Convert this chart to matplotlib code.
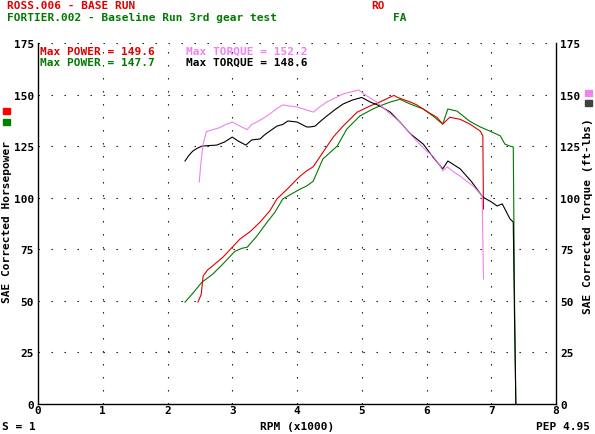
# dyno_plot.py
# Redraws the dyno comparison sheet: SAE corrected power and torque vs RPM.

import matplotlib
matplotlib.use("Agg")
import matplotlib.pyplot as plt

# ROSS.006 - base run, power (hp)
ross_power_rpm = [2.47, 2.52, 2.55, 2.62, 2.70, 2.86, 3.00, 3.12, 3.27, 3.43, 3.58, 3.69,
                  3.85, 4.00, 4.05, 4.15, 4.25, 4.40, 4.56, 4.71, 4.93, 5.13, 5.28, 5.44,
                  5.50, 5.54, 5.65, 5.75, 5.85, 5.95, 6.05, 6.16, 6.25, 6.36, 6.52, 6.67,
                  6.83, 6.87, 6.88]
ross_power = [49.4, 53.0, 62.0, 65.0, 67.0, 71.3, 76.0, 80.0, 83.4, 88.2, 93.6, 99.4,
              104.2, 109.0, 110.5, 113.0, 115.0, 122.0, 129.4, 134.7, 141.5, 144.5, 146.4, 148.8,
              149.6, 148.8, 147.5, 146.4, 145.0, 143.0, 141.0, 139.0, 135.7, 139.0, 138.0, 135.7,
              132.3, 130.0, 94.5]

# ROSS.006 - base run, torque (ft-lbs)
ross_torque_rpm = [2.49, 2.52, 2.55, 2.60, 2.70, 2.81, 2.90, 3.00, 3.10, 3.23, 3.30, 3.38,
                   3.48, 3.58, 3.68, 3.78, 3.88, 4.00, 4.10, 4.25, 4.35, 4.46, 4.60, 4.71,
                   4.86, 4.95, 5.08, 5.23, 5.39, 5.59, 5.79, 6.00, 6.10, 6.20, 6.25, 6.32,
                   6.42, 6.52, 6.62, 6.72, 6.86, 6.87, 6.88]
ross_torque = [107.6, 118.0, 126.0, 132.0, 133.0, 134.0, 135.5, 136.7, 135.0, 133.0, 135.5, 136.7,
               138.5, 140.6, 143.0, 145.0, 144.5, 144.0, 143.0, 141.5, 144.0, 146.4, 148.5, 150.3,
               151.5, 152.2, 149.3, 146.4, 142.0, 136.7, 129.4, 122.6, 120.2, 116.0, 113.0, 115.0,
               112.5, 110.5, 108.0, 105.7, 100.8, 80.0, 60.6]

# FORTIER.002 - baseline run 3rd gear, power (hp)
fortier_power_rpm = [2.27, 2.40, 2.53, 2.70, 2.86, 3.04, 3.15, 3.23, 3.38, 3.54, 3.66, 3.78,
                     3.97, 4.05, 4.15, 4.25, 4.40, 4.62, 4.77, 4.97, 5.17, 5.28, 5.44, 5.59,
                     5.75, 5.95, 6.10, 6.25, 6.33, 6.47, 6.67, 6.83, 6.98, 7.14, 7.21, 7.29,
                     7.34, 7.36, 7.38]
fortier_power = [49.4, 54.0, 59.0, 63.0, 68.0, 74.0, 75.5, 76.0, 81.4, 88.2, 93.0, 99.4,
                 102.8, 104.2, 105.7, 108.0, 118.8, 125.0, 133.3, 139.6, 143.0, 144.5, 146.4, 147.7,
                 145.4, 143.0, 139.6, 135.7, 143.0, 142.0, 137.0, 134.3, 132.3, 130.0, 126.0, 125.0,
                 124.6, 50.0, 0.0]

# FORTIER.002 - baseline run 3rd gear, torque (ft-lbs)
fortier_torque_rpm = [2.27, 2.33, 2.39, 2.46, 2.53, 2.65, 2.76, 2.88, 3.00, 3.09, 3.21, 3.30,
                      3.43, 3.50, 3.58, 3.69, 3.78, 3.86, 4.00, 4.15, 4.20, 4.28, 4.36, 4.46,
                      4.60, 4.71, 4.86, 5.00, 5.13, 5.28, 5.44, 5.59, 5.75, 5.95, 6.10, 6.25,
                      6.33, 6.42, 6.52, 6.70, 6.87, 7.00, 7.09, 7.17, 7.29, 7.34, 7.36, 7.38]
fortier_torque = [117.8, 120.5, 122.6, 124.0, 125.0, 125.3, 125.5, 127.0, 129.4, 127.5, 125.5, 128.0,
                  128.5, 130.5, 132.3, 134.7, 135.5, 137.2, 136.7, 134.3, 134.3, 134.7, 137.0, 139.6,
                  143.0, 145.4, 147.4, 148.6, 146.4, 144.5, 141.5, 136.7, 131.0, 126.0, 119.7, 114.0,
                  117.8, 116.0, 114.0, 107.6, 100.3, 98.0, 96.0, 97.0, 89.7, 88.2, 40.0, 0.0]

x_ticks = [0, 1, 2, 3, 4, 5, 6, 7, 8]
y_ticks = [0, 25, 50, 75, 100, 125, 150, 175]

W, H = 595, 435
FONT = "DejaVu Sans Mono"
FS = 8.0
RED = "#e00000"
GREEN = "#007a00"
PINK = "#ee82ee"


def px(x, y):
    """Pixel position -> figure fraction."""
    return x / W, 1 - y / H


def put(x, y, s, color="black", ha="left", va="center", **kw):
    fx, fy = px(x, y)
    fig.text(fx, fy, s, color=color, ha=ha, va=va, family=FONT,
             fontsize=FS, fontweight="bold", **kw)


fig = plt.figure(figsize=(W / 100, H / 100), dpi=100)
ax = fig.add_axes([38 / W, 1 - 405 / H, (556 - 38) / W, (405 - 44) / H])

# dotted grid, drawn by hand so the dot spacing matches the printout
for y in y_ticks[1:]:
    ax.axhline(y, color="black", lw=0.8, ls=(0, (1.2, 10.5)), zorder=1)
for x in x_ticks[1:-1]:
    ax.axvline(x, color="black", lw=0.8, ls=(0, (1.2, 10.5)), zorder=1)

ax.plot(fortier_power_rpm, fortier_power, color=GREEN, lw=0.8, zorder=3)
ax.plot(ross_power_rpm, ross_power, color=RED, lw=0.8, zorder=3)
ax.plot(fortier_torque_rpm, fortier_torque, color="black", lw=0.8, zorder=4)
ax.plot(ross_torque_rpm, ross_torque, color=PINK, lw=0.8, zorder=4)

ax.set_xlim(0, 8)
ax.set_ylim(0, 175)
ax.set_xticks(x_ticks)
ax.set_yticks(y_ticks)
ax.tick_params(length=0, labelsize=FS, labelright=True)
ax.tick_params(axis="x", pad=1)
ax.tick_params(axis="y", pad=3)
for lab in ax.get_xticklabels() + ax.get_yticklabels():
    lab.set_family(FONT)
    lab.set_fontweight("bold")
ax.spines["top"].set_visible(False)
for s in ("left", "right", "bottom"):
    ax.spines[s].set_linewidth(1.0)

# header text
put(7, 6, "ROSS.006 - BASE RUN", RED)
put(7, 18, "FORTIER.002 - Baseline Run 3rd gear test", GREEN)
put(371, 6, "RO", RED)
put(393, 18, "FA", GREEN)

put(40, 52, "Max POWER = 149.6", RED)
put(186, 52, "Max TORQUE = 152.2", PINK)
put(40, 63, "Max POWER = 147.7", GREEN)
put(186, 63, "Max TORQUE = 148.6", "black")

# axis captions
put(2, 427, "S = 1")
put(297, 427, "RPM (x1000)", ha="center")
put(590, 427, "PEP 4.95", ha="right")
put(7, 222, "SAE Corrected Horsepower", ha="center", rotation=90)
put(588, 216, "SAE Corrected Torque (ft-lbs)", ha="center", rotation=90)

# colour keys next to the axis captions
for (x, y, c) in [(3, 109, "#ff0000"), (3, 120, "#008000"),
                  (585, 91, PINK), (585, 101, "#404040")]:
    fx, fy = px(x, y + 6)
    fig.patches.append(plt.Rectangle((fx, fy), 7 / W, 6 / H, color=c,
                                     transform=fig.transFigure, figure=fig))

fig.savefig("out.png", dpi=100)
